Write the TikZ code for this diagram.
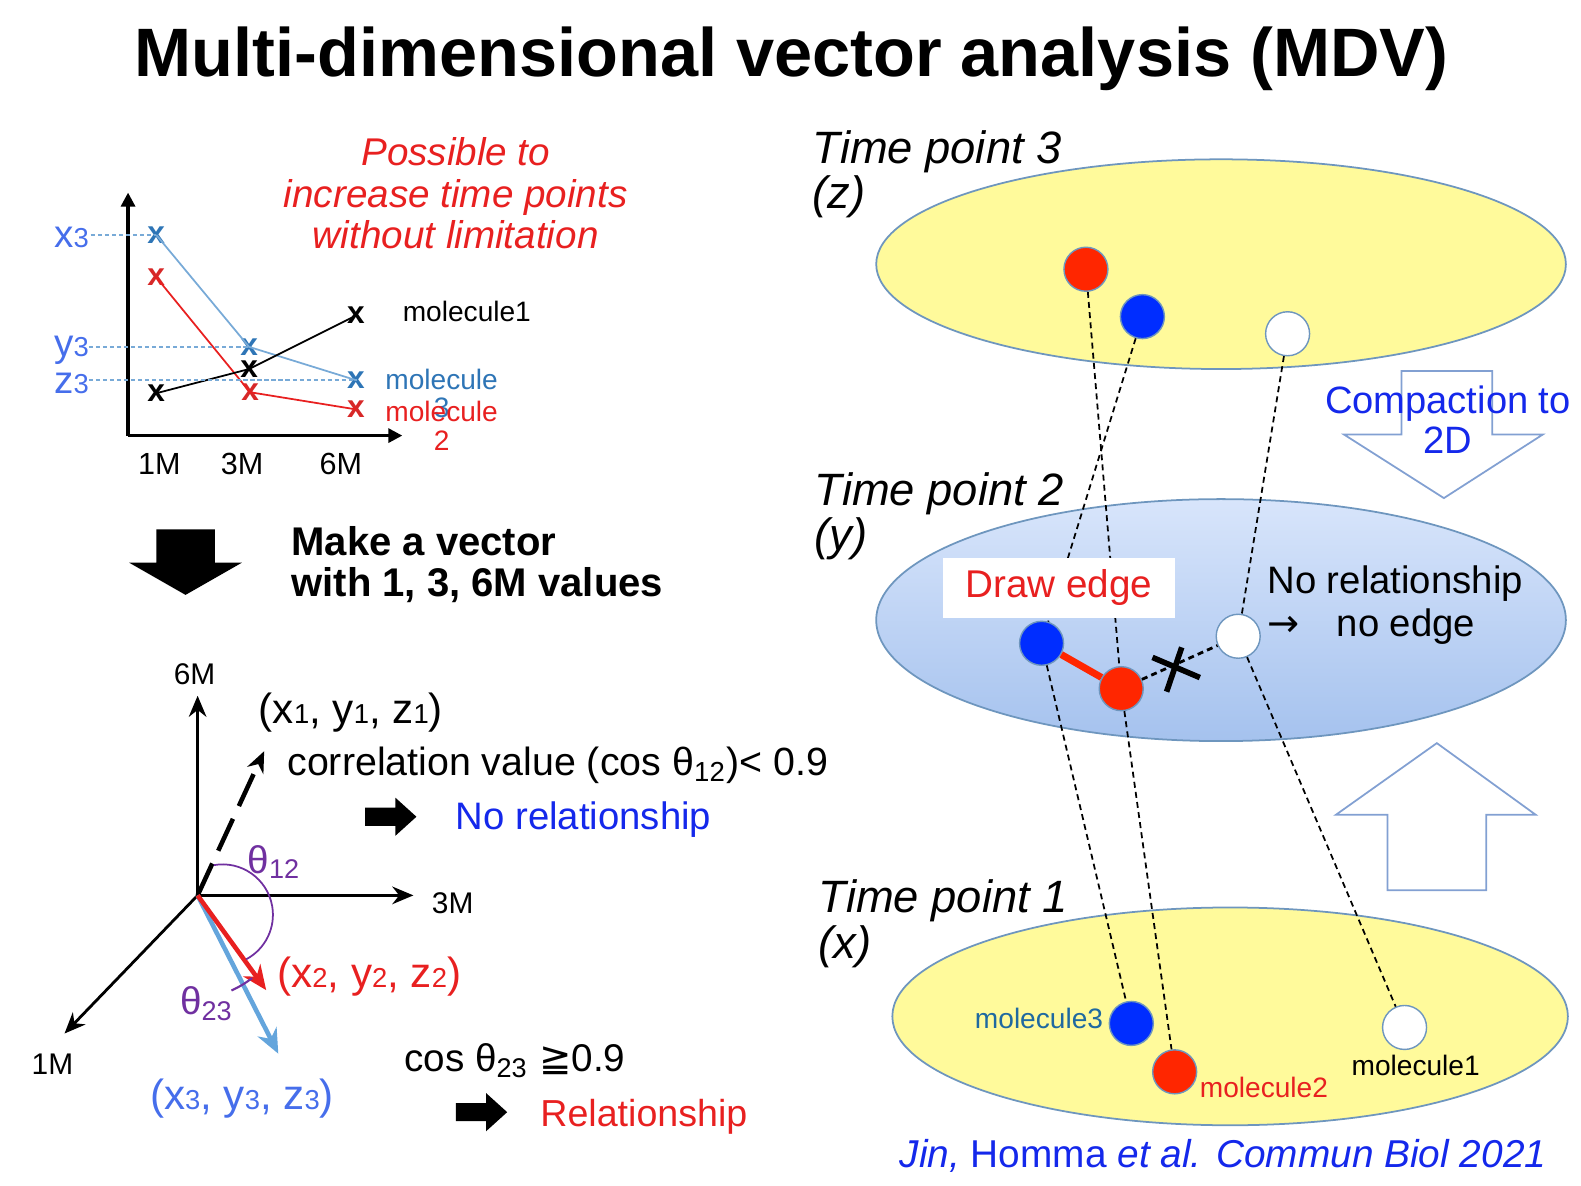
\documentclass[tikz,border=0pt]{standalone}
\usepackage{fontspec}
\setmainfont{Liberation Sans}
\newfontfamily\symf{DejaVu Sans}
\usetikzlibrary{arrows.meta}
\definecolor{tred}{RGB}{232,32,32}
\definecolor{tblue}{RGB}{20,40,235}
\definecolor{cblue}{RGB}{70,110,235}
\definecolor{mblue}{RGB}{46,117,182}
\definecolor{tealblue}{RGB}{31,105,160}
\definecolor{lblue}{RGB}{120,170,215}
\definecolor{mred}{RGB}{215,40,40}
\definecolor{vblue}{RGB}{100,165,220}
\definecolor{thpurple}{RGB}{112,48,160}
\definecolor{ellyellow}{RGB}{255,250,155}
\definecolor{ellline}{RGB}{110,150,190}
\definecolor{planetop}{RGB}{216,229,251}
\definecolor{planebot}{RGB}{165,194,238}
\definecolor{dotred}{RGB}{255,38,0}
\definecolor{dotblue}{RGB}{0,45,255}
\definecolor{hollow}{RGB}{130,160,210}
\newcommand{\lowd}[1]{{\fontsize{7.8}{8}\selectfont #1}}
\tikzset{
	txt/.style={inner sep=0pt, outer sep=0pt},
	xmark/.style={inner sep=0pt, font=\fontsize{9}{9}\selectfont\bfseries},
	dot/.style={circle, minimum size=0.44cm, inner sep=0pt, draw=ellline, line width=0.4pt},
	tie/.style={dashed, dash pattern=on 1.7pt off 1.2pt, line width=0.5pt},
	helper/.style={lblue, dashed, dash pattern=on 1.2pt off 0.8pt, line width=0.4pt},
	plane/.style={draw=ellline, line width=0.5pt},
	axis3d/.style={line width=0.8pt, -{Stealth[length=6pt,width=5pt]}},
	fatarrow/.pic={\fill (0,-9) -- (30,-9) -- (30,-19) -- (51,0) -- (30,19) -- (30,9) -- (0,9) -- cycle;}
}
\begin{document}
\begin{tikzpicture}[x=0.010083cm, y=-0.010083cm]
	\useasboundingbox (0,0) rectangle (1568,1176);
	% title
	\node[txt, font=\fontsize{19.5}{20}\selectfont\bfseries] (title) at (785,58) {Multi-dimensional vector analysis (MDV)};

	% time course chart
	\coordinate (corner) at (127,432);
	\draw[line width=0.9pt, -{Triangle[length=4pt,width=4pt]}] (corner) -- (127,191);
	\draw[line width=0.9pt, -{Triangle[length=4pt,width=4pt]}] (corner) -- (399,432);
	\foreach \n/\x/\y in {b1/155/233, b2/247/344, b3/353/377}
		\node[xmark, text=mblue] (\n) at (\x,\y) {x};
	\foreach \n/\x/\y in {r1/155/275, r2/248/389, r3/353/406}
		\node[xmark, text=mred] (\n) at (\x,\y) {x};
	\foreach \n/\x/\y in {k1/155/390, k2/247/366, k3/353/313}
		\node[xmark] (\n) at (\x,\y) {x};
	\draw[lblue, line width=0.5pt] (b1.center) -- (b2.center) -- (b3.center);
	\draw[tred, line width=0.5pt] (r1.center) -- (r2.center) -- (r3.center);
	\draw[line width=0.5pt] (k1.center) -- (k2.center) -- (k3.center);
	\draw[helper] (90,233) -- (b1.center);
	\draw[helper] (88,344) -- (b2.center);
	\draw[helper] (88,377) -- (b3.center);
	\node[txt, text=cblue, font=\fontsize{11}{11}\selectfont] (lx) at (71,235) {x\lowd{3}};
	\node[txt, text=cblue, font=\fontsize{11}{11}\selectfont] (ly) at (71,347) {y\lowd{3}};
	\node[txt, text=cblue, font=\fontsize{11}{11}\selectfont] (lz) at (71,380) {z\lowd{3}};
	\foreach \n/\x/\t in {t1/158/1M, t3/240/3M, t6/338/6M}
		\node[txt, font=\fontsize{8.7}{9}\selectfont] (\n) at (\x,460) {\t};
	\node[txt, font=\fontsize{8}{8}\selectfont] (m1) at (463,309) {molecule1};
	\node[txt, align=center, text=mblue, font=\fontsize{8}{8.1}\selectfont] (m3) at (438,390) {molecule\\3};
	\node[txt, align=center, text=tred, font=\fontsize{8}{8.3}\selectfont] (m2) at (438,422) {molecule\\2};
	\node[txt, align=center, text=tred, font=\fontsize{11}{11.8}\selectfont\itshape] (possible) at (452,192) {Possible to\\increase time points\\without limitation};

	% big arrow
	\fill (155,525) -- (213,525) -- (213,558) -- (240,558) -- (184,590) -- (128,558) -- (155,558) -- cycle;
	\node[txt, anchor=west, align=left, font=\fontsize{11.4}{11.8}\selectfont\bfseries] (makevec) at (289,560) {Make a vector\\with 1, 3, 6M values};

	% vector space
	\coordinate (O) at (196,888);
	\coordinate (ax6) at (196,690);
	\coordinate (ax3) at (410,888);
	\coordinate (ax1) at (64,1025);
	\coordinate (v1) at (262,745);
	\coordinate (v2) at (264,982);
	\coordinate (v3) at (276,1045);
	\draw[axis3d] (O) -- (ax6);
	\draw[axis3d] (O) -- (ax3);
	\draw[axis3d] (O) -- (ax1);
	\node[txt, font=\fontsize{8.5}{9}\selectfont] (l6) at (193,669) {6M};
	\node[txt, font=\fontsize{8.5}{9}\selectfont] (l3) at (449,896) {3M};
	\node[txt, font=\fontsize{8.5}{9}\selectfont] (l1) at (52,1055) {1M};
	\draw[line width=1.3pt, dashed, dash pattern=on 10pt off 4pt, -{Stealth[length=6pt,width=5pt]}] (O) -- (v1);
	\draw[vblue, line width=1.3pt, -{Stealth[length=7pt,width=6pt]}] (O) -- (v3);
	\draw[tred, line width=1.3pt, -{Stealth[length=7pt,width=6pt]}] (O) -- (v2);
	\draw[thpurple, line width=0.5pt] (212,858) arc[start angle=-100, end angle=62, radius=50];
	\draw[thpurple, line width=0.6pt] (250,970) arc[start angle=52, end angle=66, radius=98];
	\node[txt, font=\fontsize{12}{12}\selectfont] (p1) at (348,707) {(x\lowd{1}, y\lowd{1}, z\lowd{1})};
	\node[txt, anchor=west, text=tred, font=\fontsize{12}{12}\selectfont] (p2) at (275,969) {(x\lowd{2}, y\lowd{2}, z\lowd{2})};
	\node[txt, text=cblue, font=\fontsize{12}{12}\selectfont] (p3) at (240,1090) {(x\lowd{3}, y\lowd{3}, z\lowd{3})};
	\node[txt, text=thpurple, font=\fontsize{11}{12}\selectfont] (th12) at (272,855) {θ\textsubscript{12}};
	\node[txt, text=thpurple, font=\fontsize{11}{12}\selectfont] (th23) at (205,995) {θ\textsubscript{23}};
	\node[txt, anchor=west, font=\fontsize{11.2}{12}\selectfont] (corr) at (285,759) {correlation value (cos θ\textsubscript{12})< 0.9};
	\pic at (362,810) {fatarrow};
	\node[txt, anchor=west, text=tblue, font=\fontsize{10.9}{12}\selectfont] (norel) at (452,813) {No relationship};
	\node[txt, anchor=west, font=\fontsize{11}{12}\selectfont] (cos) at (401,1052) {cos θ\textsubscript{23} {\symf ≧}0.9};
	\pic at (452,1103) {fatarrow};
	\node[txt, anchor=west, text=tred, font=\fontsize{10.7}{12}\selectfont] (rel) at (536,1108) {Relationship};

	% time point planes
	\filldraw[plane, fill=ellyellow] (1211,262) ellipse [x radius=342, y radius=104];
	\shade[top color=planetop, bottom color=planebot] (1211,615) ellipse [x radius=342, y radius=120];
	\draw[plane] (1211,615) ellipse [x radius=342, y radius=120];
	\filldraw[plane, fill=ellyellow] (1220,1008) ellipse [x radius=335, y radius=108];
	\node[txt, anchor=west, align=left, font=\fontsize{12.9}{12.9}\selectfont\itshape] (tp3) at (806,173) {Time point 3\\(z)};
	\node[txt, anchor=west, align=left, font=\fontsize{12.9}{12.9}\selectfont\itshape] (tp2) at (808,512) {Time point 2\\(y)};
	\node[txt, anchor=west, align=left, font=\fontsize{12.9}{12.9}\selectfont\itshape] (tp1) at (812,916) {Time point 1\\(x)};

	% hollow arrows
	\filldraw[draw=hollow, fill=white, line width=0.5pt] (1390,368) -- (1480,368) -- (1480,431) -- (1530,431) -- (1432,494) -- (1333,431) -- (1390,431) -- cycle;
	\filldraw[draw=hollow, fill=white, line width=0.5pt] (1376,883) -- (1474,883) -- (1474,808) -- (1523,808) -- (1425,737) -- (1325,808) -- (1376,808) -- cycle;
	\node[txt, align=center, text=tblue, font=\fontsize{10.85}{11.5}\selectfont] (compact) at (1436,416) {Compaction to\\2D};

	% molecules
	\node[dot, fill=dotred] (r3z) at (1077,267) {};
	\node[dot, fill=dotblue] (b3z) at (1133,314) {};
	\node[dot, fill=white] (w3z) at (1277,331) {};
	\node[dot, fill=dotblue] (b2y) at (1033,638) {};
	\node[dot, fill=dotred] (r2y) at (1112,683) {};
	\node[dot, fill=white] (w2y) at (1228,631) {};
	\node[dot, fill=dotblue] (b1x) at (1122,1015) {};
	\node[dot, fill=dotred] (r1x) at (1165,1063) {};
	\node[dot, fill=white] (w1x) at (1393,1019) {};
	\draw[tie] (r3z) -- (r2y);
	\draw[tie] (b3z) -- (b2y);
	\draw[tie] (w3z) -- (w2y);
	\draw[tie] (r2y) -- (r1x);
	\draw[tie] (b2y) -- (b1x);
	\draw[tie] (w2y) -- (w1x);
	\draw[tie, line width=0.8pt] (r2y) -- (w2y);
	\draw[dotred, line width=2pt] (b2y) -- (r2y);
	\draw[line width=1.6pt] (1157,686) -- (1172,642);
	\draw[line width=1.6pt] (1143,652) -- (1190,672);

	\node[fill=white, minimum width=2.32cm, minimum height=0.565cm, text=tred, font=\fontsize{11}{12}\selectfont] (drawedge) at (1050,583) {Draw edge};
	\node[txt, anchor=west, align=left, font=\fontsize{10.9}{12.3}\selectfont] (noedge) at (1257,600) {No relationship\\{\symf →}\hspace{10.6pt}no edge};
	\node[txt, anchor=east, text=tealblue, font=\fontsize{8}{8}\selectfont] (lab3) at (1094,1010) {molecule3};
	\node[txt, anchor=west, text=tred, font=\fontsize{8}{8}\selectfont] (lab2) at (1190,1078) {molecule2};
	\node[txt, font=\fontsize{8}{8}\selectfont] (lab1) at (1404,1057) {molecule1};

	% citation
	\node[txt, text=tblue, font=\fontsize{11.05}{12}\selectfont] (cite) at (1213,1146) {\itshape Jin, \upshape Homma \itshape et al. Commun Biol 2021};
\end{tikzpicture}
\end{document}
